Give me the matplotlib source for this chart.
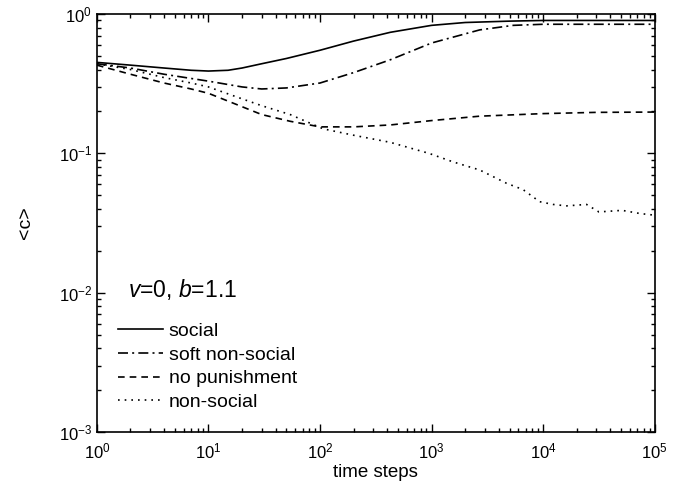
import numpy as np
import matplotlib.pyplot as plt

plt.rcParams['font.family'] = ['Liberation Sans', 'DejaVu Sans']
plt.rcParams['mathtext.fontset'] = 'custom'
plt.rcParams['mathtext.rm'] = 'Liberation Sans'
plt.rcParams['mathtext.it'] = 'Liberation Sans:italic'

# values
t_social = [1, 2, 4, 7, 10, 15, 20, 30, 50, 100, 200, 427, 1000, 2000, 5000, 1e4, 3e4, 1e5]
c_social = [0.45, 0.43, 0.41, 0.395, 0.39, 0.395, 0.41, 0.44, 0.48, 0.55, 0.64, 0.74,
            0.83, 0.87, 0.89, 0.90, 0.90, 0.90]

t_soft = [1, 2, 4, 7, 10, 20, 30, 50, 100, 200, 427, 1000, 2700, 5400, 1e4, 3e4, 1e5]
c_soft = [0.44, 0.41, 0.37, 0.345, 0.33, 0.30, 0.29, 0.295, 0.32, 0.38, 0.47, 0.62,
          0.77, 0.83, 0.845, 0.845, 0.845]

t_nopun = [1, 2, 4, 7, 10, 19, 30, 54, 100, 200, 427, 1000, 2700, 1e4, 3e4, 1e5]
c_nopun = [0.43, 0.37, 0.32, 0.29, 0.27, 0.22, 0.19, 0.17, 0.155, 0.155, 0.16, 0.172,
           0.185, 0.193, 0.197, 0.198]

t_nonsoc = [1, 2, 4, 7, 10, 19, 30, 54, 107, 200, 427, 950, 1550, 2700, 4700, 6600,
            9300, 12300, 16200, 24500, 31600, 51000, 74000, 1e5]
c_nonsoc = [0.44, 0.40, 0.35, 0.32, 0.30, 0.25, 0.22, 0.19, 0.15, 0.135, 0.12, 0.10,
            0.087, 0.076, 0.061, 0.055, 0.045, 0.043, 0.042, 0.043, 0.038, 0.039,
            0.037, 0.036]

labels = ['social', 'soft non-social', 'no punishment', 'non-social']

fig = plt.figure(figsize=(6.87, 4.94), dpi=100)
ax = fig.add_axes([0.141, 0.1255, 0.812, 0.846])

lw = 1.2
ax.plot(t_social, c_social, color='k', lw=lw, ls='-', label=labels[0])
ax.plot(t_soft, c_soft, color='k', lw=lw, ls=(0, (6, 2.5, 1.2, 2.5)), label=labels[1])
ax.plot(t_nopun, c_nopun, color='k', lw=lw, ls=(0, (4, 3)), label=labels[2])
ax.plot(t_nonsoc, c_nonsoc, color='k', lw=lw, ls=(0, (1, 3)), label=labels[3])

ax.set_xscale('log')
ax.set_yscale('log')
ax.set_xlim(1, 1e5)
ax.set_ylim(1e-3, 1)

ax.tick_params(which='both', direction='in', top=True, right=True, labelsize=12)
ax.tick_params(which='major', length=6, width=1)
ax.tick_params(which='minor', length=3, width=1)
ax.tick_params(axis='x', which='major', pad=7)
for s in ax.spines.values():
    s.set_linewidth(1.2)

ax.set_xlabel('time steps', fontsize=13.5, labelpad=2)
ax.set_ylabel('<c>', fontsize=14, labelpad=18)

ax.text(0.056, 0.342, r'$v$=0, $b$=1.1', transform=ax.transAxes, fontsize=16.5,
        va='center', ha='left')

ax.legend(loc='upper left', bbox_to_anchor=(0.038, 0.262), frameon=False,
          fontsize=14, handlelength=2.3, handletextpad=0.3, labelspacing=0.31,
          borderpad=0, borderaxespad=0)

fig.savefig('out.png', dpi=100)
